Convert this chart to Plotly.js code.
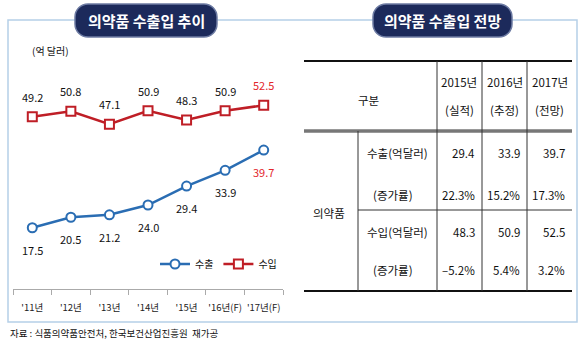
<!DOCTYPE html>
<html><head><meta charset="utf-8">
<script src="https://cdn.plot.ly/plotly-3.0.1.min.js"></script>
<style>html,body{margin:0;padding:0;background:#fff}#chart{width:580px;height:348px}</style>
</head><body><div id="chart"></div>
<script>
// ---- data ----
const years = ["'11년", "'12년", "'13년", "'14년", "'15년", "'16년(F)", "'17년(F)"];
const exportsVals = [17.5, 20.5, 21.2, 24.0, 29.4, 33.9, 39.7];
const importsVals = [49.2, 50.8, 47.1, 50.9, 48.3, 50.9, 52.5];
const seriesNames = ['수출', '수입'];

const tableYears = ['2015년', '2016년', '2017년'];
const tableNotes = ['(실적)', '(추정)', '(전망)'];
const tableExport = ['29.4', '33.9', '39.7'];
const tableExportGrowth = ['22.3%', '15.2%', '17.3%'];
const tableImport = ['48.3', '50.9', '52.5'];
const tableImportGrowth = ['–5.2%', '5.4%', '3.2%'];
const rowLabels = ['수출(억달러)', '(증가률)', '수입(억달러)', '(증가률)'];
const groupLabel = '의약품';
const headLabel = '구분';
const leftTitle = '의약품 수출입 추이';
const rightTitle = '의약품 수출입 전망';
const unitLabel = '(억 달러)';
const sourceText = '자료 : 식품의약품안전처, 한국보건산업진흥원  재가공';

// ---- helpers ----
const W = 580, H = 348;
const X = p => p / W;
const Y = p => 1 - p / H;
const FONT = '"Noto Sans CJK KR", "Noto Sans", sans-serif';
const BLUE = '#2a6db3', RED = '#bf1e26', LABELRED = '#e3262b', NAVY = '#1c2a5b';

function pill(x0, y0, x1, y1, r) {
  const k = 0.5523 * r;
  const pts = [
    ['M', x0 + r, y0], ['L', x1 - r, y0],
    ['C', x1 - r + k, y0, x1, y0 + r - k, x1, y0 + r],
    ['L', x1, y1 - r],
    ['C', x1, y1 - r + k, x1 - r + k, y1, x1 - r, y1],
    ['L', x0 + r, y1],
    ['C', x0 + r - k, y1, x0, y1 - r + k, x0, y1 - r],
    ['L', x0, y0 + r],
    ['C', x0, y0 + r - k, x0 + r - k, y0, x0 + r, y0]
  ];
  return pts.map(p => {
    let s = p[0];
    for (let i = 1; i < p.length; i += 2) s += ' ' + X(p[i]).toFixed(5) + ',' + Y(p[i + 1]).toFixed(5);
    return s;
  }).join(' ') + ' Z';
}
function hline(x0, x1, y, color, w) {
  return {type: 'line', xref: 'paper', yref: 'paper', x0: X(x0), x1: X(x1), y0: Y(y), y1: Y(y), line: {color: color, width: w}};
}
function vline(x, y0, y1, color, w) {
  return {type: 'line', xref: 'paper', yref: 'paper', x0: X(x), x1: X(x), y0: Y(y0), y1: Y(y1), line: {color: color, width: w}};
}
function txt(x, y, text, opts) {
  opts = opts || {};
  return {xref: 'paper', yref: 'paper', x: X(x), y: Y(y), text: text, showarrow: false,
    xanchor: opts.xanchor || 'center', yanchor: 'middle',
    font: {family: FONT, size: opts.size || 11.5, color: opts.color || '#111', weight: opts.weight || 'normal'}};
}

// ---- traces ----
const traces = [
  {x: years, y: exportsVals, name: seriesNames[0], type: 'scatter', mode: 'lines+markers',
   line: {color: BLUE, width: 2.5},
   marker: {symbol: 'circle', size: 9, color: '#fff', line: {color: BLUE, width: 2}}},
  {x: years, y: importsVals, name: seriesNames[1], type: 'scatter', mode: 'lines+markers',
   line: {color: RED, width: 2.5},
   marker: {symbol: 'square', size: 9, color: '#fff', line: {color: RED, width: 2}}}
];

// ---- annotations ----
const ann = [];
const last = years.length - 1;
years.forEach((c, i) => {
  ann.push({x: c, y: importsVals[i], xref: 'x', yref: 'y', text: importsVals[i].toFixed(1), showarrow: false,
    yshift: 20, font: {family: FONT, size: 11, color: i === last ? LABELRED : '#111'}});
  ann.push({x: c, y: exportsVals[i], xref: 'x', yref: 'y', text: exportsVals[i].toFixed(1), showarrow: false,
    yshift: -22, font: {family: FONT, size: 11, color: i === last ? LABELRED : '#111'}});
});
ann.push(txt(50, 50, unitLabel, {size: 10}));
ann.push(txt(146, 20, leftTitle, {size: 15, color: '#fff', weight: 'bold'}));
ann.push(txt(442.5, 20, rightTitle, {size: 15, color: '#fff', weight: 'bold'}));
ann.push(txt(8, 333, sourceText, {size: 9.5, xanchor: 'left'}));

// table text
ann.push(txt(368, 100, headLabel));
const colRight = [477, 522, 567];
const colCenter = [459.5, 504.5, 549.5];
tableYears.forEach((t, i) => {
  ann.push(txt(colCenter[i], 82, t));
  ann.push(txt(colCenter[i], 110, tableNotes[i]));
});
const rowY = [153, 195, 232, 270];
const rowX = [397, 393, 397, 393];
rowLabels.forEach((t, i) => ann.push(txt(rowX[i], rowY[i], t)));
ann.push(txt(329, 213, groupLabel));
[tableExport, tableExportGrowth, tableImport, tableImportGrowth].forEach((row, r) => {
  row.forEach((v, c) => ann.push(txt(colRight[c], rowY[r], v, {xanchor: 'right'})));
});

// ---- shapes ----
const BORDER = '#b5d0e8';
const shapes = [
  {type: 'rect', xref: 'paper', yref: 'paper', x0: X(8), x1: X(577), y0: Y(322), y1: Y(20), line: {color: BORDER, width: 1.5}, fillcolor: 'rgba(0,0,0,0)'},
  {type: 'path', xref: 'paper', yref: 'paper', path: pill(75, 4, 217, 37, 13), fillcolor: NAVY, line: {color: '#6d7ba3', width: 1.5}},
  {type: 'path', xref: 'paper', yref: 'paper', path: pill(373, 4, 512, 37, 13), fillcolor: NAVY, line: {color: '#6d7ba3', width: 1.5}},
  hline(304, 572, 61, '#111', 2),
  hline(304, 572, 131, '#777', 3.5),
  hline(358, 572, 210, '#333', 1),
  hline(304, 572, 291, '#111', 2),
  vline(437, 61, 291, '#333', 1),
  vline(482, 61, 291, '#333', 1),
  vline(527, 61, 291, '#333', 1),
  vline(358, 131, 291, '#333', 1)
];

const layout = {
  width: W, height: H, margin: {l: 0, r: 0, t: 0, b: 0},
  paper_bgcolor: '#fff', plot_bgcolor: 'rgba(0,0,0,0)',
  font: {family: FONT, color: '#111'},
  xaxis: {type: 'category', domain: [X(13), X(283)], range: [-0.5, 6.5],
    showline: true, linecolor: '#aaa', linewidth: 1, ticks: 'outside', tickson: 'boundaries',
    ticklen: 5, tickcolor: '#aaa', showgrid: false, zeroline: false, tickangle: 0,
    tickfont: {family: FONT, size: 9.5, color: '#222'}, ticklabelstandoff: 10, fixedrange: true},
  yaxis: {domain: [Y(289), Y(79)], range: [0, 60], visible: false, fixedrange: true},
  showlegend: true,
  legend: {orientation: 'h', x: X(282), xanchor: 'right', y: Y(264), yanchor: 'middle',
    bgcolor: 'rgba(0,0,0,0)', font: {family: FONT, size: 10, color: '#111'}, itemwidth: 30, traceorder: 'normal'},
  annotations: ann,
  shapes: shapes
};

Plotly.newPlot('chart', traces, layout, {displayModeBar: false, staticPlot: true});
</script>
</body></html>
